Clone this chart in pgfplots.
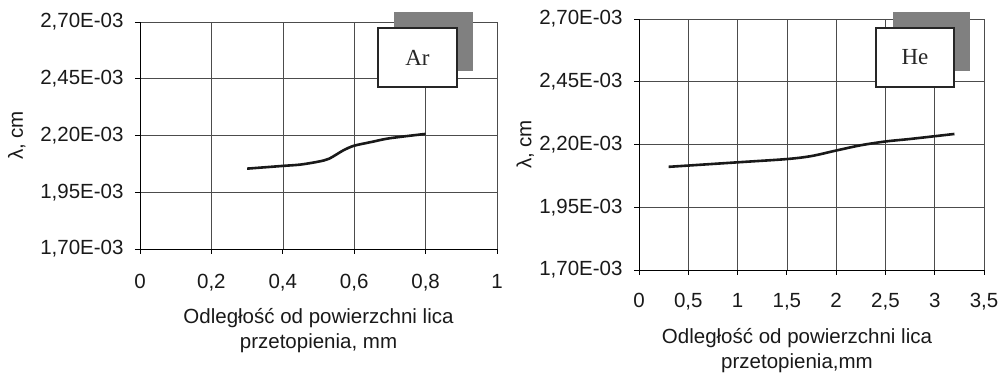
\documentclass[border=0pt]{standalone}
\usepackage{fontspec}
\setmainfont{Liberation Sans}
\newfontfamily\timesf{Liberation Serif}
\usepackage{pgfplots}
\pgfplotsset{compat=1.18}
\pgfplotsset{mystyle/.style={
  scale only axis,
  axis lines=left,
  axis line style={-, black, line width=0.9pt},
  grid=major,
  grid style={black!70, line width=0.6pt},
  tick align=outside,
  major tick length=5pt,
  tick style={black, line width=0.8pt},
  ymin=0.0017, ymax=0.0027,
  scaled y ticks=false,
  ytick={0.0017,0.00195,0.0022,0.00245,0.0027},
  yticklabels={{1,70E-03},{1,95E-03},{2,20E-03},{2,45E-03},{2,70E-03}},
  ticklabel style={font=\fontsize{20.5}{22}\selectfont, text=black!90},
  label style={font=\fontsize{20.5}{25}\selectfont, text=black!90},
  yticklabel style={xshift=-8pt},
  ylabel={λ, cm},
  xlabel style={align=center, anchor=center},
  ylabel style={anchor=center},
}}
\begin{document}
\begin{tikzpicture}
\useasboundingbox (0pt,0pt) rectangle (1001pt,377pt);
\begin{axis}[mystyle,
  at={(140pt,128pt)}, anchor=south west,
  width=357pt, height=227pt,
  xmin=0, xmax=1,
  xtick={0,0.2,0.4,0.6,0.8,1},
  xticklabels={0,{0,2},{0,4},{0,6},{0,8},1},
  xticklabel style={yshift=-17pt},
  xlabel={Odległość od powierzchni lica\\przetopienia, mm},
  xlabel style={at={(axis description cs:0.5,-0.359)}},
  ylabel style={at={(axis description cs:-0.345,0.5)}},
]
\addplot[black!90, line width=2.6pt, smooth] coordinates {
(0.30,0.002054) (0.40,0.002066) (0.45,0.002072) (0.50,0.002085)
(0.53,0.002098) (0.57,0.002135) (0.60,0.002155) (0.65,0.002172)
(0.70,0.002188) (0.80,0.002207)};
\end{axis}
\begin{axis}[mystyle,
  at={(639pt,107pt)}, anchor=south west,
  width=345pt, height=251pt,
  xmin=0, xmax=3.5,
  xtick={0,0.5,1,1.5,2,2.5,3,3.5},
  xticklabels={0,{0,5},1,{1,5},2,{2,5},3,{3,5}},
  xticklabel style={yshift=-15pt},
  xlabel={Odległość od powierzchni lica\\przetopienia,mm},
  xlabel style={at={(axis description cs:0.458,-0.321)}},
  ylabel style={at={(axis description cs:-0.330,0.5)}},
]
\addplot[black!90, line width=2.6pt, smooth] coordinates {
(0.3,0.002111) (1.0,0.002129) (1.5,0.002142) (1.75,0.002154)
(2.0,0.002176) (2.25,0.002197) (2.5,0.002212) (2.75,0.002222)
(3.0,0.002233) (3.2,0.002242)};
\end{axis}
% annotation boxes
\fill[black!50] (394pt,306pt) rectangle (473pt,365pt);
\draw[black!85, line width=1.8pt, fill=white] (378pt,290pt) rectangle (457pt,349pt);
\node[font=\timesf\fontsize{23}{26}\selectfont, text=black!85] at (417.5pt,319.5pt) {Ar};
\fill[black!50] (893pt,306pt) rectangle (970pt,365pt);
\draw[black!85, line width=1.8pt, fill=white] (876pt,290pt) rectangle (954pt,349pt);
\node[font=\timesf\fontsize{23}{26}\selectfont, text=black!85] at (915pt,319.5pt) {He};
\end{tikzpicture}
\end{document}
